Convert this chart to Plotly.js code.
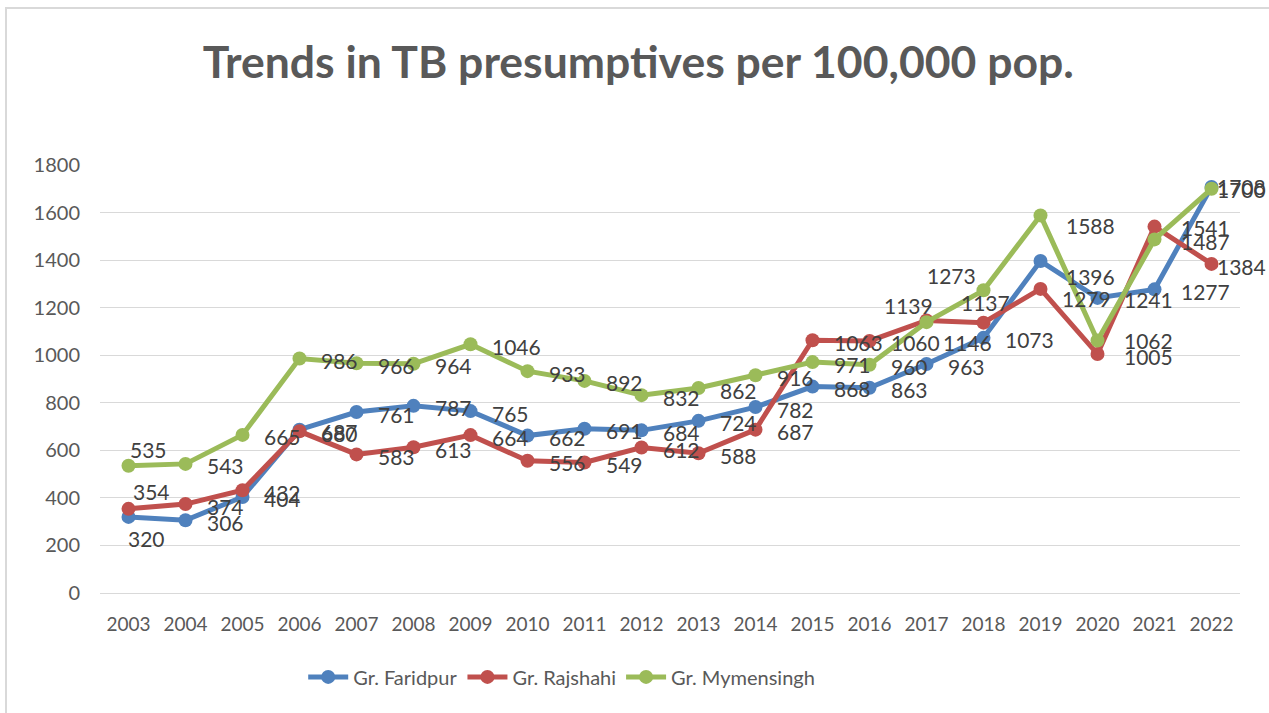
<!DOCTYPE html>
<html>
<head>
<meta charset="utf-8">
<script src="https://cdn.plot.ly/plotly-3.0.1.min.js"></script>
<style>
  html, body { margin: 0; padding: 0; background: #ffffff; overflow: hidden; }
  #frame { position: absolute; left: 5px; top: 7px; width: 1300px; height: 740px;
           border-left: 2px solid #d9d9d9; border-top: 2px solid #d9d9d9; pointer-events: none; }
  #chart { position: absolute; left: 0; top: 0; width: 1269px; height: 713px; }
</style>
</head>
<body>
<div id="chart"></div>
<div id="frame"></div>
<script>
// ---- data ----
const years = ['2003','2004','2005','2006','2007','2008','2009','2010','2011','2012',
               '2013','2014','2015','2016','2017','2018','2019','2020','2021','2022'];
const faridpur   = [320, 306, 404, 687, 761, 787, 765, 662, 691, 684,
                    724, 782, 868, 863, 963, 1073, 1396, 1241, 1277, 1708];
const rajshahi   = [354, 374, 432, 680, 583, 613, 664, 556, 549, 612,
                    588, 687, 1063, 1060, 1146, 1137, 1279, 1005, 1541, 1384];
const mymensingh = [535, 543, 665, 986, 966, 964, 1046, 933, 892, 832,
                    862, 916, 971, 960, 1139, 1273, 1588, 1062, 1487, 1700];
const seriesNames = ['Gr. Faridpur', 'Gr. Rajshahi', 'Gr. Mymensingh'];

// ---- style ----
const colors = ['#4f81bd', '#c0504d', '#9bbb59'];
const FONT = 'Lato, "Open Sans", sans-serif';
// label nudges (pixels) per series & year index: [xanchor, xshift, yshift]
const DEFAULT_NUDGE = ['left', 19, -2];
const nudges = [
  { 0: ['left', -3, -22], 16: ['left', 23, -15], 17: ['left', 24, -2], 18: ['left', 24, -2], 19: ['left', 3, 0] },
  { 0: ['left', 2, 17], 14: ['left', 14, -22], 15: ['center', 2, 20], 16: ['left', 19, -10], 17: ['left', 24, -2], 18: ['left', 24, -1], 19: ['left', 3, -3] },
  { 0: ['left', -1, 16], 14: ['center', -18, 17], 15: ['center', -32, 15], 16: ['left', 23, -10], 17: ['left', 24, 0], 18: ['left', 24, -2], 19: ['left', 3, -1] }
];

const allSeries = [faridpur, rajshahi, mymensingh];
const traces = allSeries.map((vals, i) => ({
  type: 'scatter', mode: 'lines+markers', name: seriesNames[i],
  x: years, y: vals,
  line: { color: colors[i], width: 5 },
  marker: { color: colors[i], size: 14 },
  hoverinfo: 'x+y+name'
}));

// category axis: annotations are placed by category index
const annotations = [];
allSeries.forEach((vals, i) => {
  vals.forEach((v, j) => {
    const n = nudges[i][j] || DEFAULT_NUDGE;
    annotations.push({
      x: j, y: v, xref: 'x', yref: 'y', text: String(v), showarrow: false,
      xanchor: n[0], yanchor: 'middle', xshift: n[1], yshift: n[2],
      font: { family: FONT, size: 21, color: '#404040' }
    });
  });
});

const layout = {
  width: 1269, height: 713,
  paper_bgcolor: '#ffffff', plot_bgcolor: '#ffffff',
  margin: { l: 100, r: 29, t: 165, b: 120 },
  title: {
    text: '<b>Trends in TB presumptives per 100,000 pop.</b>',
    font: { family: FONT, size: 44.5, color: '#595959' },
    x: 0.503, xanchor: 'center', y: 0.913, yanchor: 'middle'
  },
  xaxis: {
    type: 'category', range: [-0.5, 19.5],
    showgrid: false, zeroline: false, showline: false, ticks: '',
    tickfont: { family: FONT, size: 19, color: '#595959' },
    ticklabelstandoff: 18, fixedrange: true
  },
  yaxis: {
    range: [0, 1800], dtick: 200, tick0: 0,
    showgrid: true, gridcolor: '#d9d9d9', gridwidth: 1,
    zeroline: true, zerolinecolor: '#d9d9d9', zerolinewidth: 1,
    showline: false, ticks: '',
    tickfont: { family: FONT, size: 20, color: '#595959' },
    ticklabelstandoff: 19, fixedrange: true
  },
  showlegend: true,
  legend: {
    orientation: 'h', x: 0.405, xanchor: 'center', y: -0.196, yanchor: 'middle',
    font: { family: FONT, size: 20, color: '#595959' },
    itemwidth: 40, bgcolor: 'rgba(0,0,0,0)'
  },
  annotations: annotations
};

Plotly.newPlot('chart', traces, layout, { displayModeBar: false, staticPlot: true });
</script>
</body>
</html>
